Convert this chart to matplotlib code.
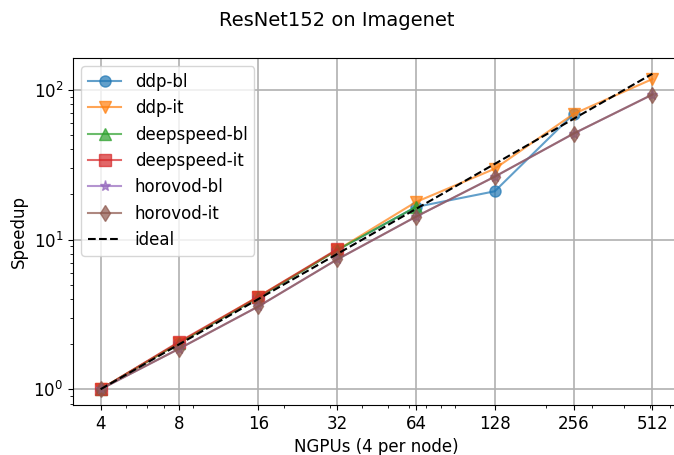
import numpy as np
import matplotlib
matplotlib.use("Agg")
import matplotlib.pyplot as plt

ngpus = [4, 8, 16, 32, 64, 128, 256, 512]
ddp_bl = [1.0, 2.05, 4.1, 8.5, 16.5, 21.0, 69.0, np.nan]
ddp_it = [1.0, 2.05, 4.15, 8.5, 17.8, 29.7, 69.0, 118.0]
deepspeed_bl = [1.0, 2.05, 4.1, 8.5, 16.5, np.nan, np.nan, np.nan]
deepspeed_it = [1.0, 2.08, 4.15, 8.6, np.nan, np.nan, np.nan, np.nan]
horovod_bl = [1.0, 1.87, 3.57, 7.36, 14.2, 26.3, 51.0, 93.0]
horovod_it = [1.0, 1.87, 3.57, 7.36, 14.2, 26.3, 51.0, 93.0]
ideal = [n / 4 for n in ngpus]

series = [
    ("ddp-bl", ddp_bl, "o"),
    ("ddp-it", ddp_it, "v"),
    ("deepspeed-bl", deepspeed_bl, "^"),
    ("deepspeed-it", deepspeed_it, "s"),
    ("horovod-bl", horovod_bl, "*"),
    ("horovod-it", horovod_it, "d"),
]

plt.rcParams['font.size'] = 12
fig = plt.figure(figsize=(6.74, 4.55), dpi=100)
ax = fig.add_axes([73/674, 1-405/455, (680-73)/674, (405-58)/455])
for name, vals, m in series:
    ax.plot(ngpus, vals, marker=m, markersize=8, alpha=0.7, label=name)
ax.plot(ngpus, ideal, "k--", label="ideal")
ax.set_xscale("log")
ax.set_yscale("log")
ax.set_xticks(ngpus)
ax.set_xticklabels([str(n) for n in ngpus])
ax.grid(True, which="major", color="#b0b0b0", linewidth=1.2)
ax.set_xlabel("NGPUs (4 per node)")
ax.set_ylabel("Speedup")
fig.suptitle("ResNet152 on Imagenet", fontsize=14, y=0.975)
ax.legend(loc="upper left")
fig.savefig("out.png", dpi=100)
